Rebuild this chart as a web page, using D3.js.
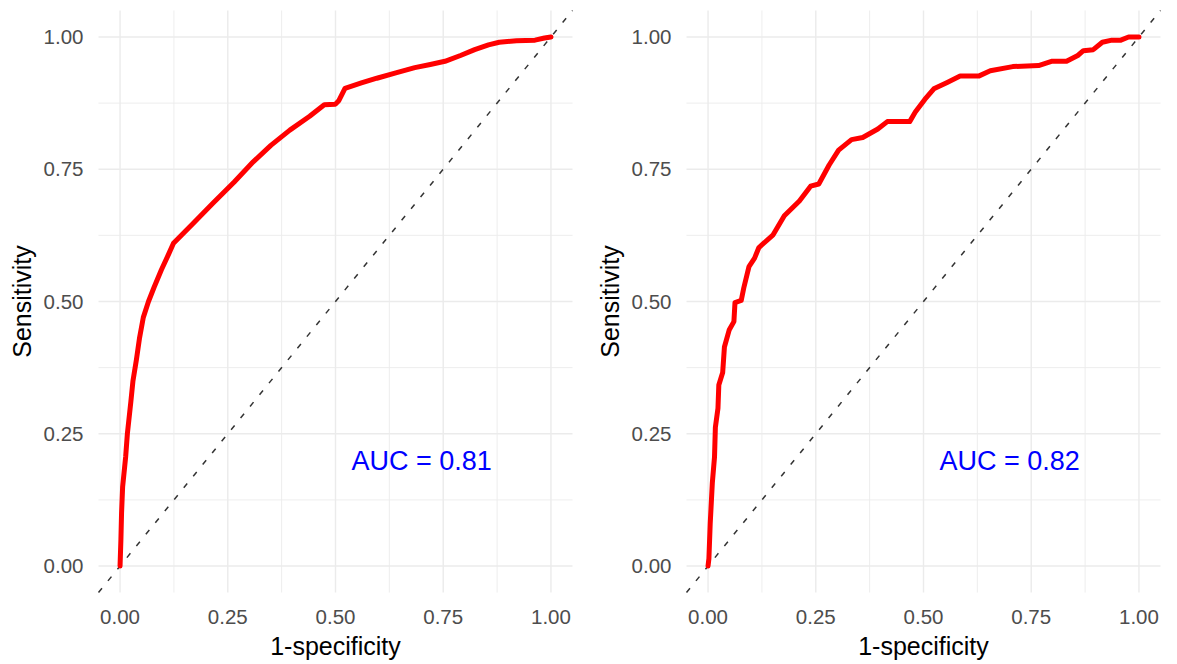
<!DOCTYPE html>
<html>
<head>
<meta charset="utf-8">
<script src="https://cdn.jsdelivr.net/npm/d3@7"></script>
<style>
  body { margin: 0; background: #fff; }
  text { font-family: "Liberation Sans", Arial, sans-serif; }
</style>
</head>
<body>
<svg id="chart" width="1177" height="664"></svg>
<script>
// ROC curve 1 (left)
var fprA = [0, 0.002, 0.0035, 0.006, 0.013, 0.017, 0.025, 0.03, 0.038, 0.045, 0.054, 0.066, 0.079, 0.096,
            0.113, 0.124, 0.17, 0.216, 0.265, 0.309, 0.35, 0.394, 0.44, 0.474, 0.5, 0.508, 0.522, 0.56,
            0.596, 0.64, 0.684, 0.72, 0.754, 0.79, 0.823, 0.855, 0.88, 0.92, 0.963, 0.985, 1];
var tprA = [0, 0.05, 0.1, 0.15, 0.206, 0.25, 0.31, 0.35, 0.39, 0.43, 0.47, 0.5, 0.527, 0.56,
            0.59, 0.61, 0.648, 0.686, 0.726, 0.764, 0.795, 0.824, 0.85, 0.872, 0.873, 0.88, 0.903, 0.913,
            0.922, 0.932, 0.942, 0.948, 0.954, 0.965, 0.976, 0.985, 0.99, 0.993, 0.994, 0.998, 1];

// ROC curve 2 (right)
var fprB = [0, 0.002, 0.005, 0.01, 0.015, 0.017, 0.023, 0.025, 0.034, 0.038, 0.049, 0.06, 0.0625, 0.077,
            0.083, 0.095, 0.108, 0.118, 0.151, 0.177, 0.212, 0.238, 0.257, 0.281, 0.303, 0.333, 0.359,
            0.394, 0.416, 0.468, 0.481, 0.503, 0.524, 0.555, 0.585, 0.628, 0.655, 0.707, 0.767, 0.797,
            0.832, 0.858, 0.871, 0.894, 0.915, 0.937, 0.958, 0.976, 1];
var tprB = [0, 0.014, 0.08, 0.158, 0.206, 0.262, 0.298, 0.342, 0.366, 0.414, 0.446, 0.462, 0.498, 0.502,
            0.526, 0.566, 0.582, 0.602, 0.626, 0.662, 0.69, 0.718, 0.722, 0.758, 0.786, 0.806, 0.81,
            0.826, 0.84, 0.84, 0.858, 0.882, 0.902, 0.914, 0.926, 0.926, 0.936, 0.944, 0.946, 0.954,
            0.954, 0.965, 0.974, 0.976, 0.99, 0.994, 0.994, 1, 1];

var aucLabels = ["AUC = 0.81", "AUC = 0.82"];
var majorTicks = [0, 0.25, 0.5, 0.75, 1];
var minorTicks = [0.125, 0.375, 0.625, 0.875];
var aucPos = [0.7, 0.2];

var svg = d3.select("#chart");
var fmt = d3.format(".2f");

function drawPanel(left, fpr, tpr, label) {
  var x = d3.scaleLinear().domain([-0.05, 1.05]).range([left, left + 474]);
  var y = d3.scaleLinear().domain([-0.05, 1.05]).range([592.5, 10.5]);
  var g = svg.append("g");

  // grid
  g.selectAll(".minx").data(minorTicks).enter().append("line")
    .attr("x1", d => x(d)).attr("x2", d => x(d))
    .attr("y1", y.range()[0]).attr("y2", y.range()[1])
    .attr("stroke", "#ebebeb").attr("stroke-width", 0.9);
  g.selectAll(".miny").data(minorTicks).enter().append("line")
    .attr("x1", x.range()[0]).attr("x2", x.range()[1])
    .attr("y1", d => y(d)).attr("y2", d => y(d))
    .attr("stroke", "#ebebeb").attr("stroke-width", 0.9);
  g.selectAll(".majx").data(majorTicks).enter().append("line")
    .attr("x1", d => x(d)).attr("x2", d => x(d))
    .attr("y1", y.range()[0]).attr("y2", y.range()[1])
    .attr("stroke", "#ebebeb").attr("stroke-width", 1.4);
  g.selectAll(".majy").data(majorTicks).enter().append("line")
    .attr("x1", x.range()[0]).attr("x2", x.range()[1])
    .attr("y1", d => y(d)).attr("y2", d => y(d))
    .attr("stroke", "#ebebeb").attr("stroke-width", 1.4);

  // tick labels
  g.selectAll(".xt").data(majorTicks).enter().append("text")
    .attr("x", d => x(d)).attr("y", 624)
    .attr("text-anchor", "middle").attr("font-size", 20.5).attr("fill", "#4d4d4d")
    .text(fmt);
  g.selectAll(".yt").data(majorTicks).enter().append("text")
    .attr("x", left - 15).attr("y", d => y(d) + 7)
    .attr("text-anchor", "end").attr("font-size", 20.5).attr("fill", "#4d4d4d")
    .text(fmt);

  // axis titles
  g.append("text")
    .attr("x", x(0.5)).attr("y", 655)
    .attr("text-anchor", "middle").attr("font-size", 25).attr("fill", "#000")
    .text("1-specificity");
  g.append("text")
    .attr("transform", "translate(" + (left - 68) + "," + y(0.5) + ") rotate(-90)")
    .attr("text-anchor", "middle").attr("font-size", 25).attr("fill", "#000")
    .text("Sensitivity");

  // diagonal reference line
  g.append("line")
    .attr("x1", x(-0.05)).attr("y1", y(-0.05))
    .attr("x2", x(1.05)).attr("y2", y(1.05))
    .attr("stroke", "#333").attr("stroke-width", 1.5)
    .attr("stroke-dasharray", "5.5,9.5");

  // ROC curve
  var pts = fpr.map((d, i) => [d, tpr[i]]);
  g.append("path")
    .datum(pts)
    .attr("fill", "none").attr("stroke", "#ff0000").attr("stroke-width", 5)
    .attr("stroke-linejoin", "round").attr("stroke-linecap", "round")
    .attr("d", d3.line().x(d => x(d[0])).y(d => y(d[1])));

  g.append("text")
    .attr("x", x(aucPos[0])).attr("y", y(aucPos[1]) + 10)
    .attr("text-anchor", "middle").attr("font-size", 27).attr("fill", "#0000ff")
    .text(label);
}

drawPanel(98.5, fprA, tprA, aucLabels[0]);
drawPanel(686.5, fprB, tprB, aucLabels[1]);
</script>
</body>
</html>
